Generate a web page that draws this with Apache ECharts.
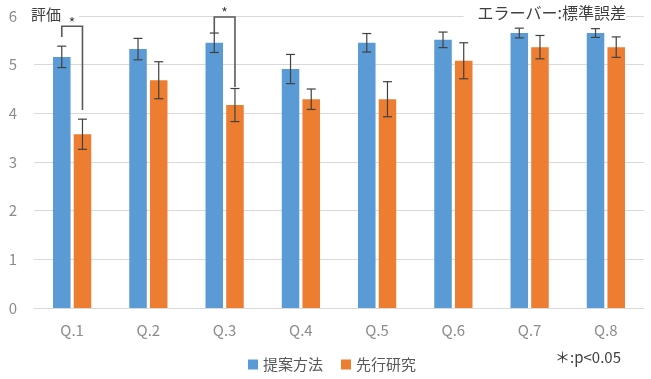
<!DOCTYPE html>
<html><head><meta charset="utf-8">
<script src="https://cdn.jsdelivr.net/npm/echarts@6/dist/echarts.min.js"></script>
<style>html,body{margin:0;padding:0;background:#fff}#c{width:651px;height:379px}</style>
</head><body><div id="c"></div>
<script>
var categories = ['Q.1','Q.2','Q.3','Q.4','Q.5','Q.6','Q.7','Q.8'];
var proposed = [5.16, 5.32, 5.45, 4.91, 5.45, 5.51, 5.65, 5.65];
var proposedSE = [0.22, 0.22, 0.20, 0.30, 0.19, 0.16, 0.10, 0.09];
var prior = [3.57, 4.68, 4.17, 4.29, 4.29, 5.08, 5.36, 5.36];
var priorSE = [0.31, 0.38, 0.34, 0.21, 0.36, 0.37, 0.24, 0.21];
var yTicks = [0, 1, 2, 3, 4, 5, 6];
// brackets: [category index, left bottom value, top value, right bottom value]
var brackets = [[0, 5.57, 5.79, 4.07], [2, 5.65, 5.98, 4.54]];

var FONT = '"Noto Sans CJK JP", "Noto Sans", sans-serif';
var BW = 0.23, GAP = 0.18;
function offset(api){ var band = api.size([1,0])[0]; var w = band*BW; return (w + GAP*w)/2; }

function errItem(side){
  return function(params, api){
    var i = api.value(0), v = api.value(1), e = api.value(2);
    var off = offset(api) * side;
    var pc = api.coord([i, v]);
    var x = pc[0] + off;
    var yt = api.coord([i, v + e])[1], yb = api.coord([i, v - e])[1];
    var cap = 4.5;
    var st = {stroke:'#404040', lineWidth:1.2};
    return {type:'group', children:[
      {type:'line', shape:{x1:x,y1:yt,x2:x,y2:yb}, style:st},
      {type:'line', shape:{x1:x-cap,y1:yt,x2:x+cap,y2:yt}, style:st},
      {type:'line', shape:{x1:x-cap,y1:yb,x2:x+cap,y2:yb}, style:st}
    ]};
  };
}
function errData(vals, se){ return vals.map(function(v,i){ return [i, v, se[i]]; }); }

var chart = echarts.init(document.getElementById('c'));
chart.setOption({
  animation:false,
  textStyle:{fontFamily:FONT},
  grid:{left:34, right:7, top:16, bottom:71, containLabel:false},
  legend:{bottom:2, left:243, itemWidth:10, itemHeight:10, itemGap:18, icon:'rect',
    textStyle:{color:'#595959', fontSize:15, fontFamily:FONT},
    data:['提案方法','先行研究']},
  xAxis:{type:'category', data:categories,
    axisLine:{lineStyle:{color:'#d9d9d9', width:1}}, axisTick:{show:false},
    axisLabel:{color:'#8c8c8c', fontSize:15, margin:15}},
  yAxis:{type:'value', min:0, max:6, interval:1,
    axisLine:{show:false}, axisTick:{show:false},
    splitLine:{lineStyle:{color:'#d9d9d9'}},
    axisLabel:{color:'#8c8c8c', fontSize:15, margin:17,
      formatter:function(v){ return yTicks.indexOf(v) >= 0 ? String(v) : ''; }}},
  graphic:[
    {type:'text', left:31, top:7, z:1, style:{text:'評価', fontSize:15, fill:'#404040', fontFamily:FONT,
      backgroundColor:'#fff', padding:[0,18,0,0]}},
    {type:'text', right:25, top:5, z:1, style:{text:'エラーバー:標準誤差', fontSize:16, fill:'#404040', fontFamily:FONT,
      backgroundColor:'#fff', padding:[0,0,0,14]}},
    {type:'text', right:30, top:350, z:1, style:{text:'＊:p<0.05', fontSize:15, fill:'#404040', fontFamily:FONT}}
  ],
  series:[
    {name:'提案方法', type:'bar', data:proposed, barWidth:(BW*100)+'%', barGap:(GAP*100)+'%', itemStyle:{color:'#5B9BD5'}},
    {name:'先行研究', type:'bar', data:prior, barWidth:(BW*100)+'%', barGap:(GAP*100)+'%', itemStyle:{color:'#ED7D31'}},
    {type:'custom', renderItem:errItem(-1), data:errData(proposed, proposedSE), z:5, silent:true},
    {type:'custom', renderItem:errItem(1), data:errData(prior, priorSE), z:5, silent:true},
    {type:'custom', z:6, silent:true, data:brackets, renderItem:function(params, api){
      var i = api.value(0);
      var off = offset(api);
      var cx = api.coord([i, 0])[0];
      var xl = cx - off, xr = cx + off;
      var yl = api.coord([i, api.value(1)])[1];
      var yt = api.coord([i, api.value(2)])[1];
      var yr = api.coord([i, api.value(3)])[1];
      return {type:'group', children:[
        {type:'polyline', shape:{points:[[xl,yl],[xl,yt],[xr,yt],[xr,yr]]}, style:{stroke:'#595959', lineWidth:1.6, fill:null}},
        {type:'text', style:{text:'*', x:cx, y:yt+3, align:'center', verticalAlign:'bottom', fontSize:14, fill:'#404040', fontFamily:FONT}}
      ]};
    }}
  ]
});
</script></body></html>
